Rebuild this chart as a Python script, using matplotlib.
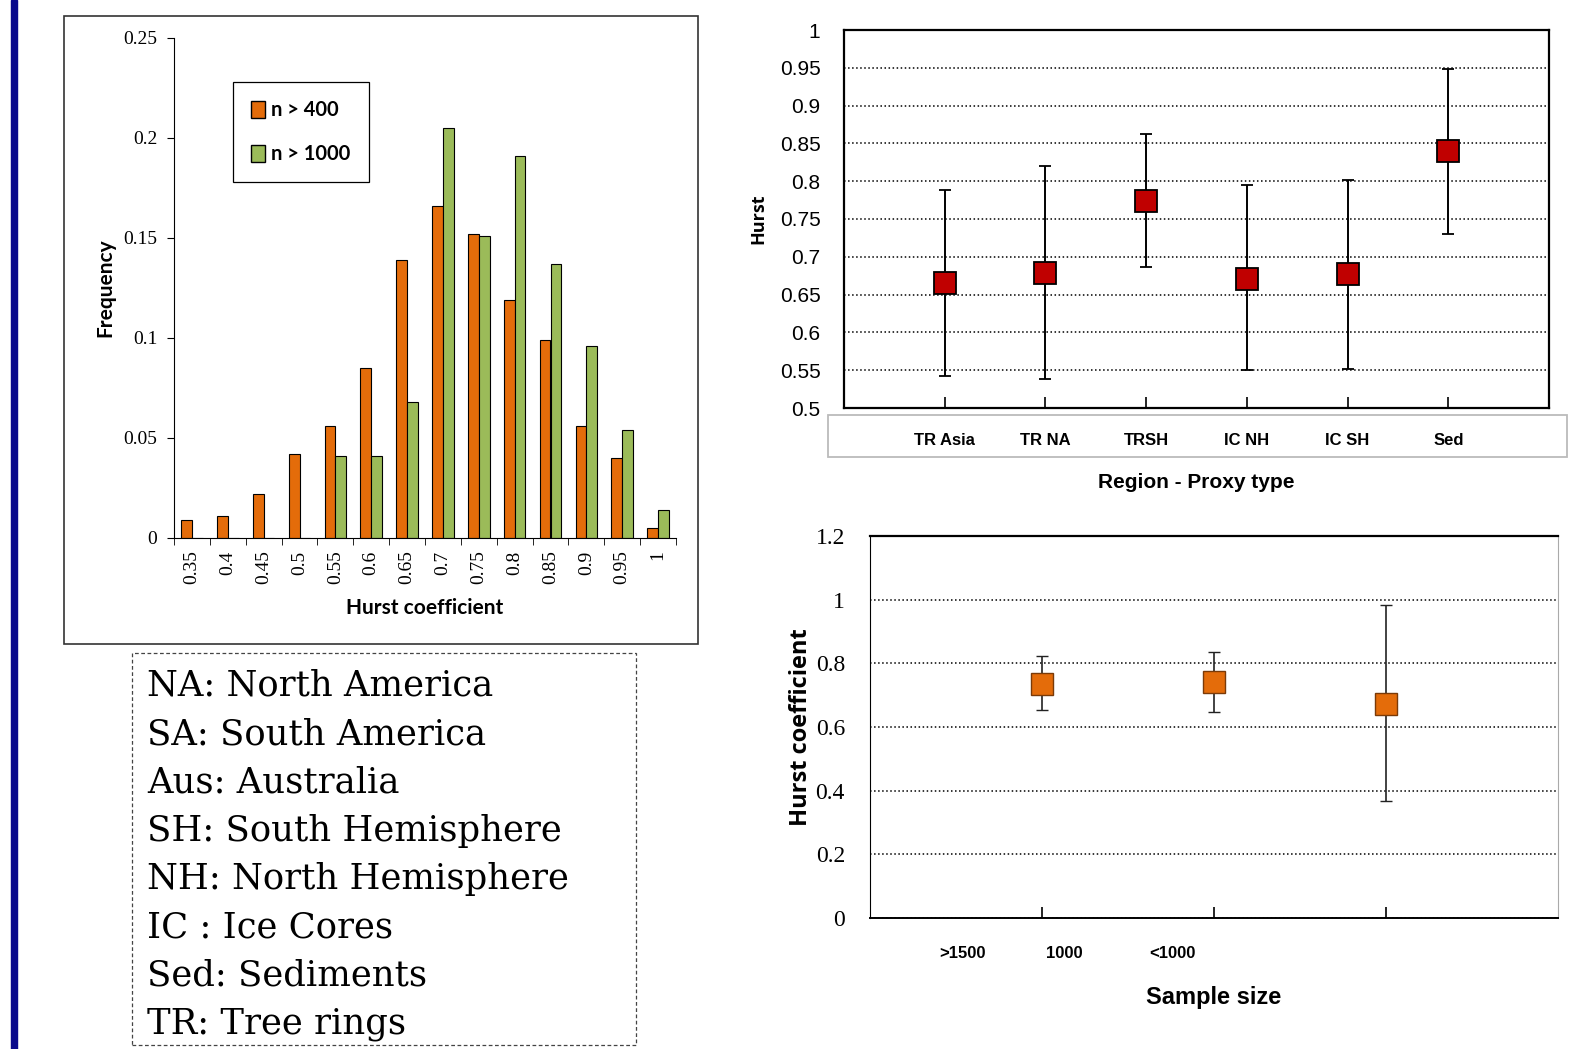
import numpy as np
import matplotlib.pyplot as plt
from matplotlib.patches import Rectangle, Patch
from matplotlib.ticker import FixedLocator, NullFormatter

# fonts
SERIF = ['Liberation Serif', 'DejaVu Serif']
SANS = ['Lato', 'DejaVu Sans']
NARROW = ['Liberation Sans Narrow', 'Liberation Sans', 'DejaVu Sans']

# --- histogram data ---
hist_bins = ['0.35', '0.4', '0.45', '0.5', '0.55', '0.6', '0.65', '0.7',
             '0.75', '0.8', '0.85', '0.9', '0.95', '1']
freq_n400 = [0.009, 0.011, 0.022, 0.042, 0.056, 0.085, 0.139, 0.166,
             0.152, 0.119, 0.099, 0.056, 0.040, 0.005]
freq_n1000 = [0, 0, 0, 0, 0.041, 0.041, 0.068, 0.205,
              0.151, 0.191, 0.137, 0.096, 0.054, 0.014]
hist_yticks = [0, 0.05, 0.1, 0.15, 0.2, 0.25]
hist_yticklabels = ['0', '0.05', '0.1', '0.15', '0.2', '0.25']

# --- region / proxy type data ---
regions = ['TR Asia', 'TR NA', 'TRSH', 'IC NH', 'IC SH', 'Sed']
region_hurst = [0.666, 0.678, 0.774, 0.671, 0.677, 0.840]
region_low = [0.542, 0.538, 0.687, 0.550, 0.552, 0.730]
region_high = [0.789, 0.820, 0.863, 0.795, 0.801, 0.949]
region_yticks = [0.5, 0.55, 0.6, 0.65, 0.7, 0.75, 0.8, 0.85, 0.9, 0.95, 1]
region_yticklabels = ['0.5', '0.55', '0.6', '0.65', '0.7', '0.75', '0.8',
                      '0.85', '0.9', '0.95', '1']

# --- sample size data ---
sample_labels = ['>1500', '1000', '<1000']
sample_label_pos = [0.54, 1.13, 1.76]   # labels sit off their ticks in the original
sample_hurst = [0.735, 0.740, 0.671]
sample_low = [0.652, 0.648, 0.367]
sample_high = [0.823, 0.837, 0.984]
sample_yticks = [0, 0.2, 0.4, 0.6, 0.8, 1, 1.2]
sample_yticklabels = ['0', '0.2', '0.4', '0.6', '0.8', '1', '1.2']

abbrev_lines = ['NA: North America', 'SA: South America', 'Aus: Australia',
                'SH: South Hemisphere', 'NH: North Hemisphere',
                'IC : Ice Cores', 'Sed: Sediments', 'TR: Tree rings']

W, H = 1587, 1049
fig = plt.figure(figsize=(W / 100, H / 100), dpi=100)


def box(x0, y0, x1, y1):
    # pixel box (y from top) -> figure fraction rect
    return [x0 / W, 1 - y1 / H, (x1 - x0) / W, (y1 - y0) / H]


# blue bar on the left edge
fig.patches.append(Rectangle((11 / W, 0), 6 / W, 1, transform=fig.transFigure,
                             color='#0a0a8c', zorder=0))

# ---------------- histogram ----------------
fig.patches.append(Rectangle((64 / W, 1 - 644 / H), 634 / W, 628 / H,
                             transform=fig.transFigure, fill=False,
                             edgecolor='#333333', lw=1.2))
ax1 = fig.add_axes(box(174, 37.5, 676, 538))
x = np.arange(len(hist_bins))
ax1.bar(x - 0.15, freq_n400, width=0.3, color='#e46c0a', edgecolor='black', lw=0.8)
ax1.bar(x + 0.15, freq_n1000, width=0.3, color='#9bbb59', edgecolor='black', lw=0.8)
ax1.set_xlim(-0.5, len(hist_bins) - 0.5)
ax1.set_ylim(0, 0.25)
for s in ['top', 'right']:
    ax1.spines[s].set_visible(False)
ax1.set_yticks(hist_yticks)
ax1.set_yticklabels(hist_yticklabels, family=SERIF, fontsize=14)
ax1.tick_params(axis='y', length=5, pad=7)
ax1.set_xticks(x)
ax1.set_xticklabels(hist_bins, rotation=90, family=SERIF, fontsize=14)
ax1.xaxis.set_minor_locator(FixedLocator(np.arange(len(hist_bins) + 1) - 0.5))
ax1.tick_params(axis='x', which='major', length=0, pad=9)
ax1.tick_params(axis='x', which='minor', length=5)
ax1.set_ylabel('Frequency', family=SANS, fontweight='bold', fontsize=15, labelpad=6)
ax1.set_xlabel('Hurst coefficient', family=SANS, fontweight='bold', fontsize=15, labelpad=10)
leg = ax1.legend(handles=[Patch(facecolor='#e46c0a', edgecolor='black', label='n > 400'),
                          Patch(facecolor='#9bbb59', edgecolor='black', label='n > 1000')],
                 loc='upper left', bbox_to_anchor=(233 / W, 1 - 82 / H),
                 bbox_transform=fig.transFigure, borderaxespad=0, fancybox=False,
                 framealpha=1, edgecolor='black', handlelength=0.7, handleheight=0.9,
                 handletextpad=0.3, labelspacing=1.2, borderpad=0.9,
                 prop={'family': SANS, 'weight': 'bold', 'size': 14.5})
leg.get_frame().set_linewidth(0.9)

# ---------------- region / proxy type ----------------
ax2 = fig.add_axes(box(844, 30, 1549, 408))
xr = np.arange(1, len(regions) + 1)
yerr = [np.array(region_hurst) - np.array(region_low),
        np.array(region_high) - np.array(region_hurst)]
ax2.errorbar(xr, region_hurst, yerr=yerr, fmt='s', color='black', ecolor='black',
             elinewidth=1.4, capsize=4.5, capthick=1.4, markersize=16,
             markerfacecolor='#c00000', markeredgecolor='black', markeredgewidth=1.3)
ax2.set_xlim(0, len(regions) + 1)
ax2.set_ylim(0.5, 1)
ax2.set_yticks(region_yticks)
ax2.set_yticklabels(region_yticklabels, family=NARROW, fontsize=15)
ax2.tick_params(axis='y', length=0, pad=17)
ax2.grid(axis='y', linestyle=':', color='black', lw=1.1)
ax2.set_xticks(xr)
ax2.set_xticklabels(regions, family=NARROW, fontweight='bold', fontsize=12)
ax2.tick_params(axis='x', direction='in', length=8, width=1.2, pad=18)
for s in ax2.spines.values():
    s.set_linewidth(1.6)
ax2.set_ylabel('Hurst', family=['Open Sans', 'DejaVu Sans'], fontweight='bold',
               fontsize=13, labelpad=9)
ax2.set_xlabel('Region - Proxy type', family=NARROW, fontweight='bold',
               fontsize=15, labelpad=18)
fig.patches.append(Rectangle((828 / W, 1 - 457 / H), 739 / W, 42 / H,
                             transform=fig.transFigure, fill=False,
                             edgecolor='#bbbbbb', lw=1.3))

# ---------------- sample size ----------------
ax3 = fig.add_axes(box(870, 536, 1558, 918))
xs = np.arange(1, len(sample_hurst) + 1)
yerr3 = [np.array(sample_hurst) - np.array(sample_low),
         np.array(sample_high) - np.array(sample_hurst)]
ax3.errorbar(xs, sample_hurst, yerr=yerr3, fmt='s', color='black', ecolor='#222222',
             elinewidth=1.2, capsize=4, capthick=1.2, markersize=16,
             markerfacecolor='#e46c0a', markeredgecolor='#7a3a08', markeredgewidth=1.0)
ax3.set_xlim(0, 4)
ax3.set_ylim(0, 1.2)
ax3.set_yticks(sample_yticks)
ax3.set_yticklabels(sample_yticklabels, family=SERIF, fontsize=17)
ax3.tick_params(axis='y', length=0, pad=18)
ax3.grid(axis='y', linestyle=':', color='black', lw=1.1)
ax3.set_xticks(sample_label_pos)
ax3.set_xticklabels(sample_labels, family=NARROW, fontweight='bold', fontsize=12)
ax3.tick_params(axis='x', which='major', length=0, pad=20)
ax3.xaxis.set_minor_locator(FixedLocator(xs))
ax3.xaxis.set_minor_formatter(NullFormatter())
ax3.tick_params(axis='x', which='minor', direction='in', length=8, width=1.2)
ax3.spines['right'].set_color('#aaaaaa')
ax3.spines['top'].set_linewidth(1.6)
ax3.spines['bottom'].set_linewidth(1.4)
ax3.set_ylabel('Hurst coefficient', family=['Open Sans', 'DejaVu Sans'],
               fontweight='bold', fontsize=17, labelpad=2)
ax3.set_xlabel('Sample size', family=NARROW, fontweight='bold', fontsize=17, labelpad=18)

# ---------------- abbreviations box ----------------
fig.patches.append(Rectangle((132 / W, 1 - 1045 / H), 504 / W, 392 / H,
                             transform=fig.transFigure, fill=False,
                             edgecolor='#444444', lw=0.9, linestyle=(0, (3, 2))))
for i, line in enumerate(abbrev_lines):
    fig.text(147 / W, 1 - (686 + i * 48.3) / H, line, family=['DejaVu Serif'],
             fontsize=25.5, va='center', ha='left')

fig.savefig('out.png', dpi=100)
